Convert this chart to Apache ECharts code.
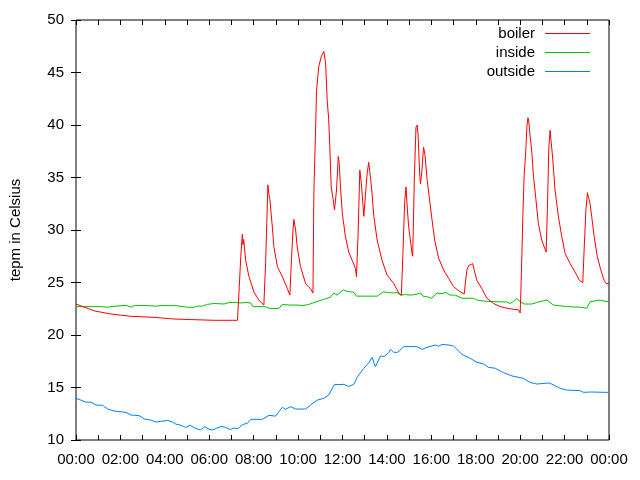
<!DOCTYPE html>
<html>
<head>
<meta charset="utf-8">
<script src="https://cdn.jsdelivr.net/npm/echarts@6/dist/echarts.min.js"></script>
<style>
  html, body { margin: 0; padding: 0; background: #fff; }
  #chart { width: 640px; height: 480px; }
</style>
</head>
<body>
<div id="chart"></div>
<script>
// [hour of day, temperature]
var boiler = [
  [0, 22.95], [0.82, 22.3], [1.57, 22.0], [2.47, 21.78], [3.52, 21.68], [4.42, 21.52],
  [6.22, 21.4], [7.27, 21.4], [7.35, 24.5], [7.42, 27.5], [7.49, 29.6], [7.52, 28.6],
  [7.55, 29.1], [7.64, 27.1], [7.79, 25.55], [8.01, 24.1], [8.24, 23.3], [8.46, 22.86],
  [8.54, 27.0], [8.61, 32.0], [8.64, 34.3], [8.69, 33.4], [8.73, 32.9], [8.84, 30.3],
  [8.91, 28.4], [9.07, 26.5], [9.29, 25.55], [9.52, 24.4], [9.63, 23.8], [9.71, 27.5],
  [9.77, 30.0], [9.81, 31.0], [9.89, 30.0], [9.96, 28.4], [10.11, 26.5], [10.34, 24.9],
  [10.56, 24.4], [10.67, 24.0], [10.71, 33.5], [10.79, 39.8], [10.83, 43.3], [10.93, 45.55],
  [11.04, 46.5], [11.16, 47.0], [11.24, 45.9], [11.31, 42.4], [11.38, 40.5], [11.43, 37.9],
  [11.49, 34.1], [11.58, 32.9], [11.64, 31.9], [11.73, 33.8], [11.81, 37.0], [11.85, 36.4],
  [11.91, 34.1], [11.99, 31.6], [12.13, 29.4], [12.28, 27.9], [12.44, 27.1], [12.58, 26.35],
  [12.63, 25.55], [12.70, 29.4], [12.78, 35.7], [12.85, 34.4], [12.96, 31.3], [13.03, 33.2],
  [13.11, 35.4], [13.18, 36.45], [13.26, 35.0], [13.33, 33.5], [13.41, 31.3], [13.56, 29.05],
  [13.78, 27.1], [14.01, 25.7], [14.31, 24.9], [14.53, 24.0], [14.65, 23.8], [14.72, 27.7],
  [14.80, 32.7], [14.86, 34.1], [14.92, 32.0], [14.98, 30.3], [15.13, 27.8], [15.16, 27.5],
  [15.24, 35.4], [15.31, 39.8], [15.36, 40.0], [15.40, 39.2], [15.48, 35.1], [15.51, 34.4],
  [15.57, 35.5], [15.65, 37.9], [15.71, 37.2], [15.81, 34.8], [15.92, 32.9], [16.03, 31.0],
  [16.15, 29.05], [16.33, 27.3], [16.55, 26.2], [16.78, 25.4], [17.0, 24.6], [17.30, 24.1],
  [17.48, 23.9], [17.60, 26.2], [17.68, 26.6], [17.86, 26.8], [17.93, 26.2], [18.05, 25.2],
  [18.28, 24.4], [18.50, 23.5], [18.80, 23.0], [19.10, 22.7], [19.40, 22.55], [19.70, 22.45],
  [19.92, 22.4], [20.0, 22.1], [20.03, 24.0], [20.08, 27.8], [20.12, 31.3], [20.18, 35.2],
  [20.26, 37.8], [20.30, 39.8], [20.35, 40.7], [20.39, 40.3], [20.45, 38.9], [20.53, 37.3],
  [20.60, 35.1], [20.71, 32.9], [20.82, 30.6], [20.97, 29.05], [21.08, 28.4], [21.17, 27.9],
  [21.23, 32.2], [21.29, 37.9], [21.35, 39.5], [21.39, 38.5], [21.47, 36.7], [21.57, 33.8],
  [21.72, 31.3], [21.87, 29.4], [22.02, 27.8], [22.25, 26.8], [22.47, 26.0], [22.67, 25.2],
  [22.82, 25.0], [22.88, 28.1], [22.96, 31.9], [23.03, 33.55], [23.09, 33.0], [23.15, 32.5],
  [23.22, 31.3], [23.33, 29.4], [23.47, 27.5], [23.63, 26.2], [23.78, 25.2], [23.87, 24.9],
  [24.0, 24.9]
];

var inside = [
  [0, 22.7], [1.12, 22.7], [1.42, 22.65], [1.57, 22.7], [2.25, 22.83], [2.47, 22.65],
  [2.62, 22.8], [3.15, 22.8], [3.6, 22.75], [3.82, 22.8], [4.49, 22.8], [5.02, 22.64],
  [5.32, 22.64], [5.47, 22.75], [5.69, 22.75], [5.92, 22.92], [6.22, 23.0], [6.67, 22.95],
  [6.89, 23.1], [7.19, 23.1], [7.42, 23.05], [7.64, 23.1], [7.87, 23.05], [7.97, 22.7],
  [8.54, 22.7], [8.69, 22.55], [9.12, 22.5], [9.29, 22.9], [9.66, 22.85], [10.02, 22.85],
  [10.19, 22.8], [10.47, 22.9], [10.86, 23.2], [11.16, 23.4], [11.46, 23.6], [11.61, 24.0],
  [11.76, 23.8], [12.03, 24.3], [12.21, 24.15], [12.51, 24.06], [12.63, 23.7], [13.56, 23.7],
  [13.83, 24.1], [14.07, 24.05], [14.29, 24.0], [14.46, 24.05], [14.61, 23.8], [14.83, 23.85],
  [15.1, 23.8], [15.36, 23.9], [15.51, 24.0], [15.65, 23.65], [15.81, 23.65], [16.03, 23.5],
  [16.25, 24.0], [16.48, 23.95], [16.67, 24.05], [16.85, 23.8], [17.08, 23.8], [17.38, 23.5],
  [17.90, 23.5], [18.05, 23.33], [18.50, 23.2], [19.40, 23.14], [19.55, 23.0], [19.70, 23.2],
  [19.84, 23.46], [20.0, 23.2], [20.18, 22.95], [20.53, 22.95], [20.75, 23.1], [21.2, 23.33],
  [21.49, 22.86], [22.09, 22.7], [22.70, 22.65], [23.0, 22.55], [23.15, 23.17], [23.60, 23.33],
  [23.82, 23.2], [24.0, 23.2]
];

var outside = [
  [0, 13.97], [0.22, 13.8], [0.45, 13.6], [0.67, 13.6], [0.90, 13.33], [1.20, 13.3],
  [1.42, 12.95], [1.72, 12.76], [2.25, 12.63], [2.47, 12.38], [2.85, 12.32], [3.07, 12.0],
  [3.37, 11.9], [3.60, 11.71], [3.82, 11.77], [4.12, 11.87], [4.35, 11.7], [4.49, 11.52],
  [4.72, 11.4], [4.94, 11.2], [5.14, 11.4], [5.32, 11.17], [5.59, 10.95], [5.80, 11.27],
  [5.99, 11.02], [6.14, 10.95], [6.34, 11.13], [6.55, 11.3], [6.74, 11.2], [6.94, 11.0],
  [7.11, 11.14], [7.29, 11.08], [7.49, 11.46], [7.72, 11.6], [7.87, 11.97], [8.39, 11.97],
  [8.69, 12.35], [8.99, 12.27], [9.14, 12.7], [9.29, 13.11], [9.44, 12.92], [9.66, 13.17],
  [9.89, 12.95], [10.34, 12.95], [10.56, 13.33], [10.86, 13.8], [11.16, 13.97], [11.38, 14.29],
  [11.64, 15.3], [11.84, 15.27], [12.06, 15.3], [12.28, 15.1], [12.36, 15.2], [12.51, 15.3],
  [12.66, 15.97], [12.96, 16.83], [13.18, 17.35], [13.33, 17.87], [13.48, 16.98], [13.71, 18.0],
  [13.86, 17.95], [14.08, 18.31], [14.16, 18.63], [14.31, 18.35], [14.49, 18.35], [14.76, 18.89],
  [15.36, 18.89], [15.58, 18.63], [15.81, 18.83], [16.18, 19.05], [16.33, 18.92], [16.48, 19.1],
  [16.78, 19.05], [17.0, 18.95], [17.38, 18.16], [17.75, 17.78], [18.05, 17.4], [18.35, 17.24],
  [18.58, 16.92], [18.88, 16.83], [19.25, 16.41], [19.63, 16.1], [20.15, 15.87], [20.42, 15.5],
  [20.75, 15.33], [21.27, 15.43], [21.42, 15.33], [21.80, 14.92], [22.09, 14.76], [22.70, 14.7],
  [22.85, 14.54], [23.22, 14.57], [23.82, 14.54], [23.96, 14.54]
];

var seriesNames = ['boiler', 'inside', 'outside'];
var seriesColors = ['#ff0000', '#00c000', '#0080ff'];

function hourLabel(v) {
  if (v % 2 !== 0) return '';
  var h = v % 24;
  return (h < 10 ? '0' : '') + h + ':00';
}

var font = 'Liberation Sans';
var chart = echarts.init(document.getElementById('chart'), null, { renderer: 'canvas' });

var tickOpts = { show: true, inside: true, length: 5, lineStyle: { color: '#000' } };

chart.setOption({
  animation: false,
  backgroundColor: '#fff',
  textStyle: { fontFamily: font },
  grid: {
    left: 75, right: 31, top: 20, bottom: 40,
    show: true, borderColor: '#000', borderWidth: 1, backgroundColor: 'transparent'
  },
  legend: {
    orient: 'vertical',
    align: 'right',
    right: 45,
    top: 21,
    itemWidth: 45,
    itemHeight: 1,
    itemGap: 4,
    icon: 'rect',
    textStyle: { fontFamily: font, fontSize: 15, color: '#000', padding: [0, 5, 0, 0] },
    data: seriesNames
  },
  xAxis: [{
    type: 'value', min: 0, max: 24, interval: 1,
    axisLine: { show: false },
    axisTick: tickOpts,
    splitLine: { show: false },
    axisLabel: { formatter: hourLabel, fontFamily: font, fontSize: 15, color: '#000', margin: 12 }
  }, {
    type: 'value', min: 0, max: 24, interval: 1, position: 'top',
    axisLine: { show: false }, axisTick: tickOpts, splitLine: { show: false },
    axisLabel: { show: false }
  }],
  yAxis: [{
    type: 'value', min: 10, max: 50, interval: 5,
    name: 'tepm in Celsius', nameLocation: 'middle', nameGap: 53, nameRotate: 90,
    nameTextStyle: { fontFamily: font, fontSize: 15, color: '#000' },
    axisLine: { show: false },
    axisTick: tickOpts,
    splitLine: { show: false },
    axisLabel: { fontFamily: font, fontSize: 15, color: '#000', margin: 12 }
  }, {
    type: 'value', min: 10, max: 50, interval: 5, position: 'right',
    axisLine: { show: false }, axisTick: tickOpts, splitLine: { show: false },
    axisLabel: { show: false }
  }],
  series: [boiler, inside, outside].map(function (d, i) {
    return {
      name: seriesNames[i],
      type: 'line',
      data: d,
      showSymbol: false,
      symbol: 'none',
      color: seriesColors[i],
      lineStyle: { width: 1, color: seriesColors[i] },
      z: 3 - i
    };
  })
});
</script>
</body>
</html>
